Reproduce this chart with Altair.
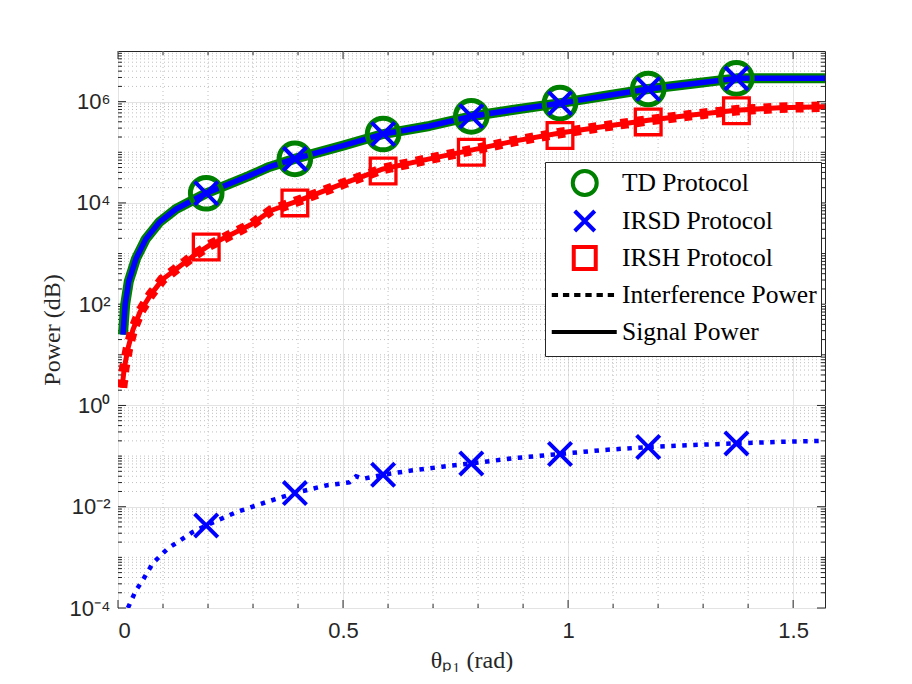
import altair as alt
import pandas as pd

# ---------------- data ----------------
# signal power curve (TD and IRSD coincide)
sig_x = [0.011, 0.016, 0.024, 0.040, 0.062, 0.092, 0.129, 0.196, 0.29, 0.336, 0.392,
         0.5, 0.589, 0.692, 0.785, 0.88, 0.982, 1.08, 1.178, 1.28, 1.374, 1.45, 1.571]
td_sig = [25.1, 100, 282, 794, 1950, 4170, 7590, 15500, 33900, 51300, 74100,
          135000, 229000, 331000, 513000, 692000, 933000, 1290000, 1780000, 2290000,
          2880000, 2880000, 2880000]
irsd_sig = [25.1, 100, 282, 794, 1950, 4170, 7590, 15500, 33900, 51300, 74100,
            135000, 229000, 331000, 513000, 692000, 933000, 1290000, 1780000, 2290000,
            2880000, 2880000, 2880000]

# IRSH curve (signal and interference drawn on top of each other)
irsh_x = [0.009, 0.014, 0.022, 0.033, 0.049, 0.072, 0.099, 0.136, 0.170, 0.203, 0.248,
          0.299, 0.340, 0.403, 0.5, 0.589, 0.692, 0.785, 0.88, 0.982, 1.08, 1.178,
          1.28, 1.374, 1.47, 1.571]
irsh_pow = [2.24, 5.50, 13.2, 30.9, 70.8, 151, 309, 550, 933, 1450, 2290,
            3890, 7080, 11200, 24000, 46800, 74100, 110000, 166000, 240000, 324000,
            427000, 550000, 676000, 759000, 794000]

# IRSD interference power
intf_x = [0.022, 0.040, 0.055, 0.077, 0.110, 0.144, 0.166, 0.196, 0.262, 0.329, 0.392,
          0.462, 0.514, 0.529, 0.544, 0.589, 0.648, 0.72, 0.785, 0.88, 0.982, 1.08,
          1.178, 1.28, 1.374, 1.47, 1.571]
irsd_intf = [1.00e-4, 2.24e-4, 3.55e-4, 7.59e-4, 1.48e-3, 2.34e-3, 3.16e-3, 4.27e-3,
             7.76e-3, 1.23e-2, 1.86e-2, 2.63e-2, 3.02e-2, 3.98e-2, 3.55e-2, 4.27e-2,
             5.13e-2, 6.17e-2, 7.16e-2, 9.12e-2, 0.110, 0.132, 0.151, 0.166, 0.178,
             0.191, 0.200]

# marker positions
mk_x = [0.196, 0.393, 0.589, 0.785, 0.982, 1.178, 1.374]
td_mk = [15500, 74100, 229000, 513000, 933000, 1780000, 2880000]
irsd_mk = [15500, 74100, 229000, 513000, 933000, 1780000, 2880000]
irsh_mk = [1350, 10000, 42700, 100000, 214000, 398000, 661000]
irsd_intf_mk = [4.27e-3, 1.86e-2, 4.27e-2, 7.16e-2, 0.110, 0.151, 0.178]

# axes ticks
x_major = [0, 0.5, 1, 1.5]
x_minor = [0.1, 0.2, 0.3, 0.4, 0.6, 0.7, 0.8, 0.9, 1.1, 1.2, 1.3, 1.4]
y_major = [1e-4, 1e-2, 1e0, 1e2, 1e4, 1e6]
y_minor = [m * 10.0 ** k for k in range(-4, 7) for m in range(1, 10)
           if not (m == 1 and k % 2 == 0)]

legend_names = ["TD Protocol", "IRSD Protocol", "IRSH Protocol",
                "Interference Power", "Signal Power"]
legend_colors = ["#008000", "#0000ff", "#ff0000", "#000000", "#000000"]
# symbol paths in units of 15 px (relative to the legend symbol centre);
# every path starts with the same invisible extent so all rows are equal
BOX = "M-0.95,-0.8M3.38,0.8"
legend_shapes = [
    BOX + "M2.05,0A0.8,0.8,0,1,1,0.45,0A0.8,0.8,0,1,1,2.05,0",
    BOX + "M0.583,-0.667L1.917,0.667M0.583,0.667L1.917,-0.667",
    BOX + "M0.517,-0.733H1.983V0.733H0.517Z",
    BOX + "M-0.95,0H-0.53M-0.204,0H0.216M0.543,0H0.963M1.29,0H1.71M2.036,0H2.456M2.783,0H3.203",
    BOX + "M-0.95,0H3.383",
]

# ---------------- chart ----------------
W, H = 707, 557
XMAX = 1.5708
xscale = alt.Scale(domain=[0, XMAX], nice=False, zero=False)
yscale = alt.Scale(type="log", domain=[1e-4, 1e7], nice=False)
AX = "#262626"

xaxis = alt.Axis(values=x_major, labelExpr="toString(datum.value)", grid=True,
                 gridColor="#e3e3e3", gridWidth=1, tickSize=0, domain=False,
                 labelFont="Liberation Sans", labelFontSize=22, labelColor=AX,
                 labelPadding=12, title="θₚ₁ (rad)", titleFont="Liberation Serif",
                 titleFontSize=24, titleFontWeight="normal", titleColor=AX,
                 titlePadding=7)
yaxis = alt.Axis(values=y_major,
                 labelExpr="['10⁻⁴','10⁻³','10⁻²','10⁻¹','10⁰','10¹','10²','10³','10⁴','10⁵','10⁶','10⁷'][round(log(datum.value)/LN10)+4]",
                 grid=True, gridColor="#e3e3e3", gridWidth=1, tickSize=0, domain=False,
                 labelFont="Liberation Sans", labelFontSize=22, labelColor=AX,
                 labelPadding=8, title="Power (dB)", titleFont="Liberation Serif",
                 titleFontSize=24, titleFontWeight="normal", titleColor=AX,
                 titlePadding=5)


def X():
    return alt.X("x:Q", scale=xscale, axis=xaxis)


def Y():
    return alt.Y("y:Q", scale=yscale, axis=yaxis)


def df(xs, ys):
    return pd.DataFrame({"x": xs, "y": ys})


ymin_df = pd.DataFrame({"y": y_minor})
ymaj_df = pd.DataFrame({"y": y_major})
xmin_df = pd.DataFrame({"x": x_minor})
xmaj_df = pd.DataFrame({"x": x_major})

grid_y = alt.Chart(ymin_df).mark_rule(color="#bfbfbf", strokeWidth=1, strokeDash=[1, 3]).encode(y=Y())
grid_x = alt.Chart(xmin_df).mark_rule(color="#bfbfbf", strokeWidth=1, strokeDash=[1, 3]).encode(x=X())

tick = dict(color=AX, strokeWidth=1)
tl_maj = alt.Chart(ymaj_df).mark_rule(**tick).encode(y=Y(), x=alt.value(0), x2=alt.value(8))
tr_maj = alt.Chart(ymaj_df).mark_rule(**tick).encode(y=Y(), x=alt.value(W), x2=alt.value(W - 8))
tl_min = alt.Chart(ymin_df).mark_rule(**tick).encode(y=Y(), x=alt.value(0), x2=alt.value(4))
tr_min = alt.Chart(ymin_df).mark_rule(**tick).encode(y=Y(), x=alt.value(W), x2=alt.value(W - 4))
tb_maj = alt.Chart(xmaj_df).mark_rule(**tick).encode(x=X(), y=alt.value(H), y2=alt.value(H - 8))
tt_maj = alt.Chart(xmaj_df).mark_rule(**tick).encode(x=X(), y=alt.value(0), y2=alt.value(8))
tb_min = alt.Chart(xmin_df).mark_rule(**tick).encode(x=X(), y=alt.value(H), y2=alt.value(H - 4))
tt_min = alt.Chart(xmin_df).mark_rule(**tick).encode(x=X(), y=alt.value(0), y2=alt.value(4))

green = alt.Chart(df(sig_x, td_sig)).mark_line(color="#008000", strokeWidth=10, strokeCap="butt",
                                              strokeJoin="round", clip=True).encode(x=X(), y=Y())
blue = alt.Chart(df(sig_x, irsd_sig)).mark_line(color="#0000ff", strokeWidth=5.5, strokeCap="butt",
                                               strokeJoin="round", clip=True).encode(x=X(), y=Y())
red_s = alt.Chart(df(irsh_x, irsh_pow)).mark_line(color="#ff0000", strokeWidth=5, strokeCap="butt",
                                                 strokeJoin="round", clip=True).encode(x=X(), y=Y())
red_d = alt.Chart(df(irsh_x, irsh_pow)).mark_line(color="#ff0000", strokeWidth=10.5, strokeCap="butt",
                                                 strokeDash=[8, 8], clip=True).encode(x=X(), y=Y())
blue_d = alt.Chart(df(intf_x, irsd_intf)).mark_line(color="#0000ff", strokeWidth=4.5, strokeCap="butt",
                                                   strokeDash=[4.5, 6.5], clip=True).encode(x=X(), y=Y())

XPATH = "M-1,-1L1,1M-1,1L1,-1"
circ = alt.Chart(df(mk_x, td_mk)).mark_point(shape="circle", size=1000, filled=False, color="#008000",
                                            strokeWidth=5, opacity=1).encode(x=X(), y=Y())
xs1 = alt.Chart(df(mk_x, irsd_mk)).mark_point(shape=XPATH, size=540, filled=False, color="#0000ff",
                                             strokeWidth=4, opacity=1).encode(x=X(), y=Y())
sq = alt.Chart(df(mk_x, irsh_mk)).mark_point(shape="square", size=660, filled=False, color="#ff0000",
                                            strokeWidth=3.3, opacity=1).encode(x=X(), y=Y())
xs2 = alt.Chart(df(mk_x, irsd_intf_mk)).mark_point(shape=XPATH, size=540, filled=False, color="#0000ff",
                                                  strokeWidth=4, opacity=1).encode(x=X(), y=Y())

leg = alt.Legend(title=None, orient="none", legendX=427, legendY=111,
                 symbolSize=900, symbolStrokeWidth=4, symbolOpacity=1,
                 labelFont="Liberation Serif", labelFontSize=25.5, labelColor="#000000",
                 labelOffset=39, labelLimit=0, strokeColor=AX, fillColor="#ffffff",
                 padding=4, rowPadding=-3.3)
legend_layer = alt.Chart(pd.DataFrame({"name": legend_names})).mark_point(
    filled=False, opacity=0).encode(
    x=alt.value(0), y=alt.value(0),
    color=alt.Color("name:N", sort=legend_names,
                    scale=alt.Scale(domain=legend_names, range=legend_colors), legend=leg),
    shape=alt.Shape("name:N", sort=legend_names,
                    scale=alt.Scale(domain=legend_names, range=legend_shapes), legend=leg),
)

chart = alt.layer(
    grid_y, grid_x, tl_maj, tr_maj, tl_min, tr_min, tb_maj, tt_maj, tb_min, tt_min,
    green, blue, red_s, red_d, blue_d, circ, xs1, sq, xs2, legend_layer
).properties(
    width=W, height=H,
    autosize=alt.AutoSizeParams(type="none"),
    padding={"left": 110, "top": 43, "right": 70, "bottom": 64},
    background="#ffffff",
).configure_view(stroke=AX, strokeWidth=1).configure_legend(
    labelFont="Liberation Serif", labelFontSize=25.5)

chart.save("out.html", embed_options={"renderer": "svg", "actions": False})
